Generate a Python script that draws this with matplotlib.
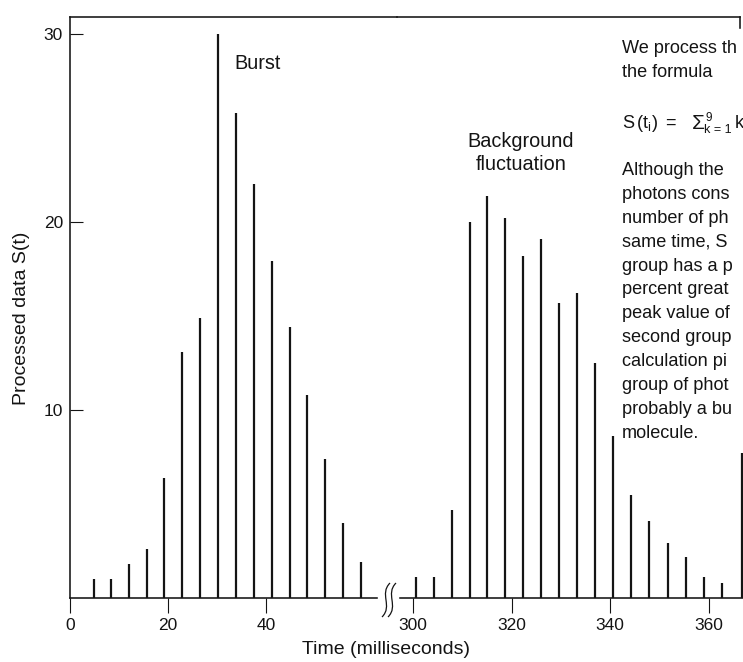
import matplotlib
matplotlib.use("Agg")
import matplotlib.pyplot as plt
from matplotlib.path import Path
from matplotlib.patches import PathPatch
from matplotlib.lines import Line2D

plt.rcParams["font.family"] = ["Liberation Sans", "DejaVu Sans"]
plt.rcParams["mathtext.fontset"] = "custom"
plt.rcParams["mathtext.rm"] = "Liberation Sans"
plt.rcParams["mathtext.it"] = "Liberation Sans:italic"
plt.rcParams["mathtext.bf"] = "Liberation Sans:bold"

# ---- data -------------------------------------------------------------
burst_time = [4.8, 8.4, 12.1, 15.8, 19.2, 22.9, 26.5, 30.2, 33.9, 37.6,
              41.2, 44.8, 48.4, 52.1, 55.8, 59.4]
burst_s = [1.0, 1.0, 1.8, 2.6, 6.4, 13.1, 14.9, 30.0, 25.8, 22.0,
           17.9, 14.4, 10.8, 7.4, 4.0, 1.9]

bg_time = [300.6, 304.3, 307.9, 311.5, 315.1, 318.7, 322.4, 326.0, 329.7,
           333.2, 336.9, 340.6, 344.2, 347.9, 351.7, 355.4, 359.0, 362.7,
           366.8]
bg_s = [1.1, 1.1, 4.7, 20.0, 21.4, 20.2, 18.2, 19.1, 15.7, 16.2,
        12.5, 8.6, 5.5, 4.1, 2.9, 2.2, 1.1, 0.8, 7.7]

left_ticks = [0, 20, 40]
right_ticks = [300, 320, 340, 360]
y_ticks = [10, 20, 30]

side_text = [
    "Although the",
    "photons cons",
    "number of ph",
    "same time, S",
    "group has a p",
    "percent great",
    "peak value of",
    "second group",
    "calculation pi",
    "group of phot",
    "probably a bu",
    "molecule.",
]

# ---- layout (pixel anchors on a 743 x 662 canvas) ---------------------
W, H = 743, 662
INK = "#141414"
fig = plt.figure(figsize=(W / 100, H / 100), dpi=100)
fig.patch.set_facecolor("white")


def fx(px):
    return px / W


def fy(py):
    return 1 - py / H


BASE_PX, TOP_PX = 598, 17
PX_PER_UNIT = 18.8
ZERO_PX, PX_PER_MS_L = 70, 4.9
SPLIT_PX = 397
T300_PX, PX_PER_MS_R = 413, 4.93
RIGHT_PX = 770
ymax = (BASE_PX - TOP_PX) / PX_PER_UNIT

ax1 = fig.add_axes([fx(ZERO_PX), fy(BASE_PX), fx(SPLIT_PX) - fx(ZERO_PX),
                    (BASE_PX - TOP_PX) / H])
ax2 = fig.add_axes([fx(SPLIT_PX), fy(BASE_PX), fx(RIGHT_PX) - fx(SPLIT_PX),
                    (BASE_PX - TOP_PX) / H])
for ax in (ax1, ax2):
    ax.set_facecolor("none")
    ax.set_ylim(0, ymax)

ax1.set_xlim(0, (SPLIT_PX - ZERO_PX) / PX_PER_MS_L)
ax2.set_xlim(300 - (T300_PX - SPLIT_PX) / PX_PER_MS_R,
             300 + (RIGHT_PX - T300_PX) / PX_PER_MS_R)

lw_frame = 1.15
for ax in (ax1, ax2):
    for side in ("left", "right", "top", "bottom"):
        ax.spines[side].set_linewidth(lw_frame)
        ax.spines[side].set_color(INK)
    ax.spines["right"].set_visible(False)
ax2.spines["left"].set_visible(False)

ax1.spines["bottom"].set_bounds(0, (377 - ZERO_PX) / PX_PER_MS_L)
ax2.spines["bottom"].set_bounds(300 - (T300_PX - 400) / PX_PER_MS_R,
                                ax2.get_xlim()[1])
t_frame_end = 300 + (740 - T300_PX) / PX_PER_MS_R
ax2.spines["top"].set_bounds(ax2.get_xlim()[0], t_frame_end)

# bars
ax1.vlines(burst_time, 0, burst_s, color=INK, linewidth=1.6)
ax2.vlines(bg_time, 0, bg_s, color=INK, linewidth=1.6)

# ticks
ax1.set_xticks(left_ticks)
ax1.set_xticklabels([str(v) for v in left_ticks])
ax2.set_xticks(right_ticks)
ax2.set_xticklabels([str(v) for v in right_ticks])
ax1.set_yticks(y_ticks)
ax1.set_yticklabels([str(v) for v in y_ticks])
ax2.set_yticks([])
for ax in (ax1, ax2):
    ax.tick_params(axis="x", direction="out", length=10.5, width=0.8,
                   pad=4, labelsize=12.5, colors=INK)
ax1.tick_params(axis="y", direction="in", length=9.4, width=0.8,
                pad=5, labelsize=12.5, colors=INK)
ax2.tick_params(axis="y", left=False, right=False)

# short right edge of the frame
fig.add_artist(Line2D([fx(740), fx(740)], [fy(TOP_PX), fy(28)],
                      transform=fig.transFigure, color=INK, lw=lw_frame))


# axis break marks
def squiggle(xb):
    verts = [(xb, 617), (xb + 11, 606), (xb - 3, 594), (xb + 8, 583)]
    verts = [(fx(a), fy(b)) for a, b in verts]
    codes = [Path.MOVETO, Path.CURVE4, Path.CURVE4, Path.CURVE4]
    return PathPatch(Path(verts, codes), transform=fig.transFigure,
                     fill=False, edgecolor=INK, lw=0.9)


fig.add_artist(squiggle(382))
fig.add_artist(squiggle(388))

# axis labels
fig.text(fx(22), fy(318), "Processed data S(t)", rotation=90,
         ha="center", va="center", fontsize=14, color=INK)
fig.text(fx(386), fy(650), "Time (milliseconds)", ha="center",
         va="center", fontsize=14, color=INK)

# annotations
fig.text(fx(234), fy(69), "Burst", ha="left", va="baseline",
         fontsize=14.3, color=INK)
fig.text(fx(521), fy(147), "Background", ha="center", va="baseline",
         fontsize=14.3, color=INK)
fig.text(fx(521), fy(170), "fluctuation", ha="center", va="baseline",
         fontsize=14.3, color=INK)

# side note
TX = 622
fs_note = 13.1


def note(px, py, s, size=fs_note):
    fig.text(fx(px), fy(py), s, ha="left", va="baseline",
             fontsize=size, color=INK)


note(TX, 53, "We process th")
note(TX, 77, "the formula")

# S(t_i) = sum_{k=1}^{9} k ...
note(TX, 128, r"S$\,$(t$_{\mathrm{i}}$)")
note(665, 128, "=")
note(692, 129, "\u03a3", size=15)
note(705, 121, "9", size=8.5)
note(704, 133, "k = 1", size=9)
note(735, 128, "k")

for i, line in enumerate(side_text):
    note(TX, 175 + i * 23.9, line)

fig.savefig("out.png", dpi=100, facecolor="white")
